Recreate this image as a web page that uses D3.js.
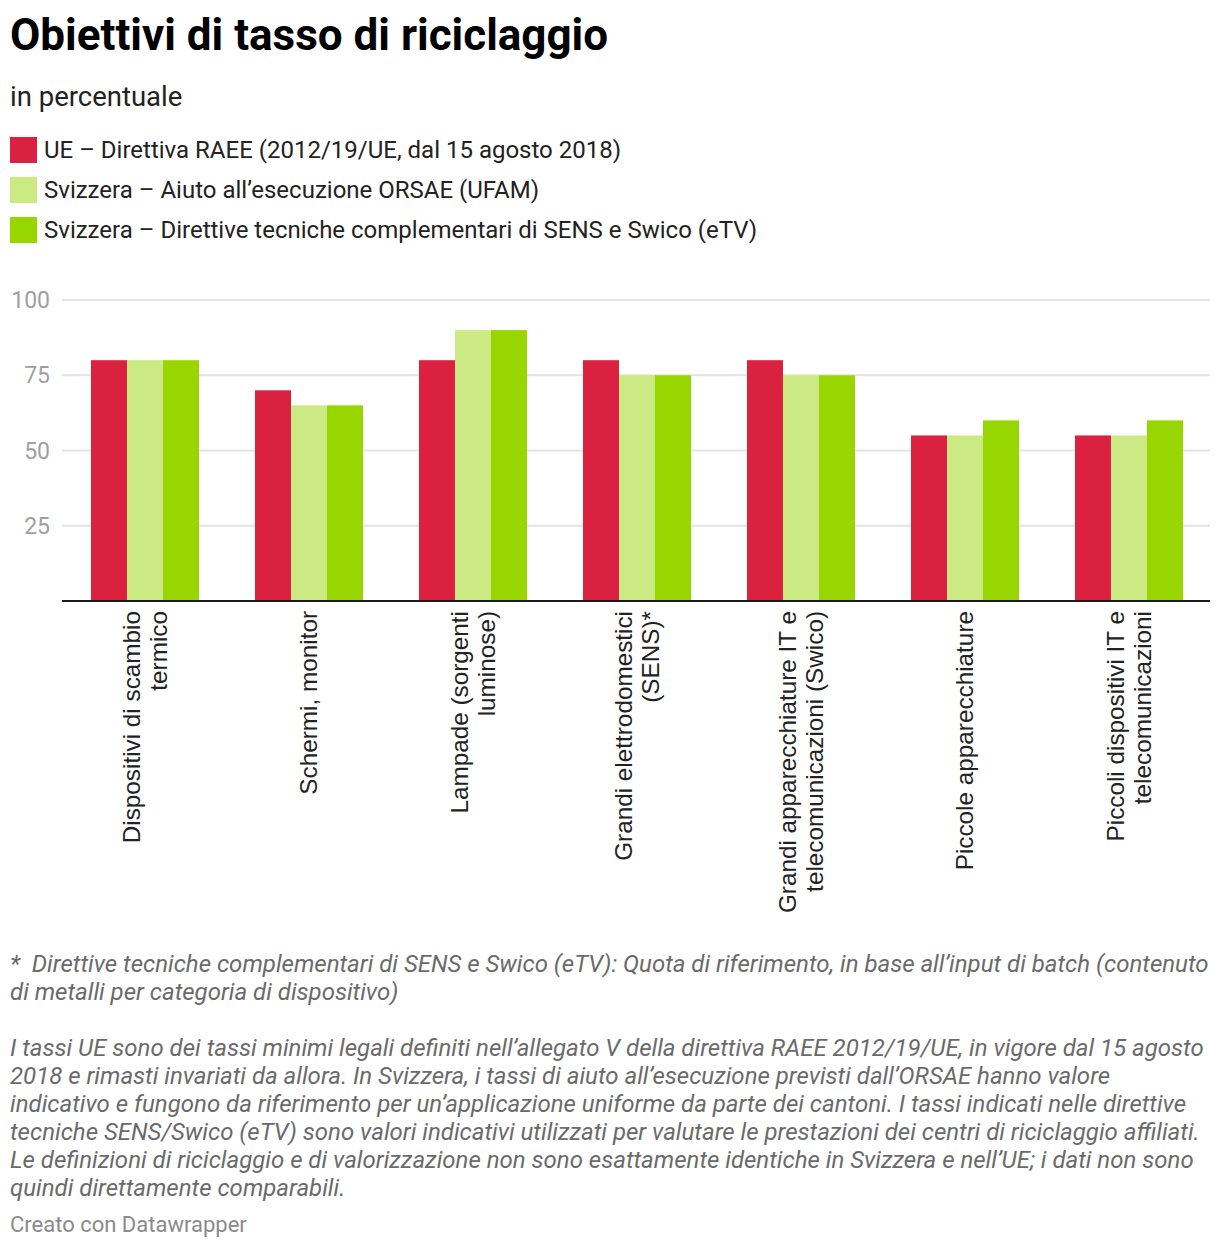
<!DOCTYPE html>
<html><head><meta charset="utf-8">
<script src="https://cdn.jsdelivr.net/npm/d3@7"></script>
<style>
body{margin:0;background:#fff;}
svg{display:block;}
text{white-space:pre;}
</style></head>
<body>
<svg id="chart" width="1220" height="1248"></svg>
<script>
const categories = [
  ["Dispositivi di scambio","termico"],
  ["Schermi, monitor"],
  ["Lampade (sorgenti","luminose)"],
  ["Grandi elettrodomestici","(SENS)*"],
  ["Grandi apparecchiature IT e","telecomunicazioni (Swico)"],
  ["Piccole apparecchiature"],
  ["Piccoli dispositivi IT e","telecomunicazioni"]
];
const seriesNames = [
  "UE – Direttiva RAEE (2012/19/UE, dal 15 agosto 2018)",
  "Svizzera – Aiuto all’esecuzione ORSAE (UFAM)",
  "Svizzera – Direttive tecniche complementari di SENS e Swico (eTV)"
];
const seriesColors = ["#da2140","#cbea83","#98d600"];
const euValues    = [80,70,80,80,80,55,55];
const orsaeValues = [80,65,90,75,75,55,55];
const etvValues   = [80,65,90,75,75,60,60];
const yTicks = [25,50,75,100];
const footnote1 = ["*  Direttive tecniche complementari di SENS e Swico (eTV): Quota di riferimento, in base all’input di batch (contenuto","di metalli per categoria di dispositivo)"];
const footnote2 = [
  "I tassi UE sono dei tassi minimi legali definiti nell’allegato V della direttiva RAEE 2012/19/UE, in vigore dal 15 agosto",
  "2018 e rimasti invariati da allora. In Svizzera, i tassi di aiuto all’esecuzione previsti dall’ORSAE hanno valore",
  "indicativo e fungono da riferimento per un’applicazione uniforme da parte dei cantoni. I tassi indicati nelle direttive",
  "tecniche SENS/Swico (eTV) sono valori indicativi utilizzati per valutare le prestazioni dei centri di riciclaggio affiliati.",
  "Le definizioni di riciclaggio e di valorizzazione non sono esattamente identiche in Svizzera e nell’UE; i dati non sono",
  "quindi direttamente comparabili."
];
const series = [euValues, orsaeValues, etvValues];

const svg = d3.select("#chart");
const F = "Roboto, 'Noto Sans', sans-serif";

svg.append("text").attr("x",10).attr("y",50).attr("font-family",F).attr("font-weight",700)
  .attr("font-size",44).attr("fill","#000").text("Obiettivi di tasso di riciclaggio");
svg.append("text").attr("x",10).attr("y",106).attr("font-family",F)
  .attr("font-size",27.5).attr("fill","#222").text("in percentuale");

const leg = svg.append("g");
seriesNames.forEach((n,i)=>{
  const y = 137 + i*40;
  leg.append("rect").attr("x",10).attr("y",y).attr("width",27).attr("height",26).attr("fill",seriesColors[i]);
  leg.append("text").attr("x",44).attr("y",y+21).attr("font-family",F).attr("font-size",24)
    .attr("fill","#222").text(n);
});

const x0 = d3.scaleBand().domain(d3.range(categories.length)).range([62,1210])
  .paddingInner(56/164).paddingOuter(28/164);
const x1 = d3.scaleBand().domain(d3.range(3)).range([0,x0.bandwidth()]);
const y = d3.scaleLinear().domain([0,100]).range([601,300]);

const grid = svg.append("g");
yTicks.forEach(t=>{
  grid.append("line").attr("x1",62).attr("x2",1210).attr("y1",y(t)).attr("y2",y(t))
    .attr("stroke","#e3e3e3").attr("stroke-width",2);
  grid.append("text").attr("x",50).attr("y",y(t)+8).attr("text-anchor","end")
    .attr("font-family",F).attr("font-size",23).attr("fill","#a0a0a0").text(t);
});

const bars = svg.append("g");
categories.forEach((c,ci)=>{
  series.forEach((s,si)=>{
    bars.append("rect").attr("x",x0(ci)+x1(si)+1).attr("width",x1.bandwidth())
      .attr("y",y(s[ci])).attr("height",y(0)-y(s[ci])).attr("fill",seriesColors[si]);
  });
});

svg.append("line").attr("x1",62).attr("x2",1210).attr("y1",y(0)).attr("y2",y(0))
  .attr("stroke","#1a1a1a").attr("stroke-width",2);

const xl = svg.append("g");
categories.forEach((lines,ci)=>{
  const cx = x0(ci)+x0.bandwidth()/2;
  const n = lines.length;
  lines.forEach((ln,li)=>{
    const off = (li-(n-1)/2)*27;
    const xx = cx+off+9;
    xl.append("text").attr("transform",`translate(${xx},611) rotate(-90)`)
      .attr("text-anchor","end").attr("font-family","'Liberation Sans', Arial, sans-serif")
      .attr("font-size",24.3).attr("fill","#222").text(ln);
  });
});

const fn = svg.append("g").attr("font-family",F).attr("font-style","italic")
  .attr("font-size",24).attr("fill","#6a6a6a");
footnote1.forEach((l,i)=>fn.append("text").attr("x",10).attr("y",972+i*28).attr("xml:space","preserve").text(l));
footnote2.forEach((l,i)=>fn.append("text").attr("x",10).attr("y",1056+i*28).text(l));
svg.append("text").attr("x",10).attr("y",1232).attr("font-family",F).attr("font-size",22)
  .attr("fill","#8a8a8a").text("Creato con Datawrapper");
</script>
</body></html>
